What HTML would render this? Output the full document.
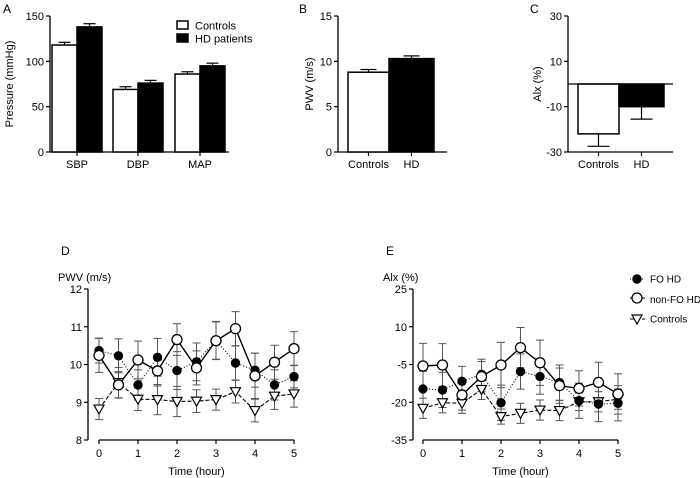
<!DOCTYPE html>
<html><head><meta charset="utf-8">
<style>
html,body{margin:0;padding:0;background:#fff;}
svg{display:block;font-family:"Liberation Sans",Arial,sans-serif;}
</style></head>
<body>
<svg id="fig" width="700" height="478" viewBox="0 0 700 478">
<g id="A"></g>
<g id="B"></g>
<g id="C"></g>
<g id="D"></g>
<g id="E"></g>
</svg>
<script>
// Panel A data
const aCategories = ["SBP","DBP","MAP"];
const aControls = [118, 69, 86];
const aControlsErr = [3, 3, 2.5];
const aHD = [138, 76, 95];
const aHDErr = [3.5, 3, 3];
const aTicks = [0, 50, 100, 150];
// Panel B
const bCategories = ["Controls","HD"];
const bValues = [8.8, 10.3];
const bErr = [0.3, 0.3];
const bTicks = [0, 5, 10, 15];
// Panel C
const cCategories = ["Controls","HD"];
const cValues = [-22, -10];
const cErr = [5.5, 5.5];
const cTicks = [-30, -10, 10, 30];
// Time series
const times = [0,0.5,1,1.5,2,2.5,3,3.5,4,4.5,5];
const timeTicks = [0,1,2,3,4,5];
const dFO = [10.37,10.23,9.46,10.19,9.84,10.07,10.64,10.04,9.85,9.46,9.68];
const dFOErr = [0.33,0.45,0.4,0.5,0.5,0.5,0.5,0.45,0.45,0.4,0.3];
const dNonFO = [10.24,9.46,10.12,9.83,10.66,9.91,10.63,10.95,9.70,10.06,10.42];
const dNonFOErr = [0.45,0.35,0.5,0.4,0.42,0.45,0.5,0.45,0.6,0.45,0.45];
const dCtrl = [8.82,9.52,9.08,9.07,9.02,9.03,9.07,9.28,8.78,9.16,9.22];
const dCtrlErr = [0.28,0.4,0.3,0.4,0.4,0.3,0.28,0.3,0.3,0.35,0.35];
const dTicks = [8,9,10,11,12];
const eFO = [-14.7,-15.1,-11.7,-8.9,-20.2,-7.8,-9.8,-12.2,-19.4,-20.7,-20.4];
const eFOErr = [7,7,6,6,7,7,7,7,7,7,7];
const eNonFO = [-5.6,-5.2,-17.1,-9.8,-5.2,1.7,-4.3,-13.4,-14.5,-12.1,-16.7];
const eNonFOErr = [9,8.5,6,6,9,8,9,7,7,8,8];
const eCtrl = [-22.4,-20.2,-20.4,-14.9,-25.7,-24.4,-23.1,-23.3,-19.8,-19.8,-18.8];
const eCtrlErr = [4,4,4,4,3,4,4,4,3.5,4,4];
const eTicks = [-35,-20,-5,10,25];

const NS="http://www.w3.org/2000/svg";
function mk(parent,tag,attrs,text){const e=document.createElementNS(NS,tag);for(const k in attrs)e.setAttribute(k,attrs[k]);if(text!==undefined)e.textContent=text;parent.appendChild(e);return e;}
function lin(d0,d1,r0,r1){return v=>r0+(v-d0)/(d1-d0)*(r1-r0);}
const FS=11;

function yAxis(g,x,y,ticks,fmt){
  const l=mk(g,'line',{x1:x,x2:x,y1:y(ticks[ticks.length-1]),y2:y(ticks[0]),stroke:'#000','stroke-width':1.3});
  
  
  ticks.forEach(t=>{
    mk(g,'line',{x1:x-4,x2:x,y1:y(t),y2:y(t),stroke:'#000','stroke-width':1.2});
    const tx=mk(g,'text',{x:x-6,y:y(t)+4,'font-size':FS,'text-anchor':'end'},fmt?fmt(t):t);
    
    
  });
}
function label(g,x,y,txt,name,extra){
  const t=mk(g,'text',Object.assign({x:x,y:y,'font-size':FS},extra||{}),txt);
  
  
  return t;
}
function errBar(g,x,top,bottom,w){
  mk(g,'line',{x1:x,x2:x,y1:top,y2:bottom,stroke:'#000','stroke-width':1.2});
  mk(g,'line',{x1:x-w,x2:x+w,y1:top,y2:top,stroke:'#000','stroke-width':1.2});
}

// ---- Panel A
(function(){
  const g=document.getElementById('A');
  const y=lin(0,150,152,16);
  const ax=50;
  label(g,3,13,'A','panel-letter',{'font-size':12});
  label(g,0,0,'Pressure (mmHg)','y-axis-title',{transform:'translate(13,84) rotate(-90)','text-anchor':'middle'});
  yAxis(g,ax,y,aTicks);
  mk(g,'line',{x1:ax,x2:229,y1:152,y2:152,stroke:'#000','stroke-width':1.3});
  const centers=[77,138,200], bw=25;
  aCategories.forEach((c,i)=>{
    const cx=centers[i];
    errBar(g,cx-bw/2,y(aControls[i]+aControlsErr[i]),y(aControls[i]),6);
    errBar(g,cx+bw/2,y(aHD[i]+aHDErr[i]),y(aHD[i]),6);
    const r1=mk(g,'rect',{x:cx-bw,y:y(aControls[i]),width:bw,height:152-y(aControls[i]),fill:'#fff',stroke:'#000','stroke-width':1.5});
    
    
    const r2=mk(g,'rect',{x:cx,y:y(aHD[i]),width:bw,height:152-y(aHD[i]),fill:'#000',stroke:'#000','stroke-width':1.5});
    
    
    mk(g,'line',{x1:cx,x2:cx,y1:152,y2:156,stroke:'#000','stroke-width':1.2});
    label(g,cx,168,c,'x-tick-label',{'text-anchor':'middle'});
  });
  const lg=mk(g,'g',{});
  
  
  mk(lg,'rect',{x:177,y:21,width:11,height:8,fill:'#fff',stroke:'#000','stroke-width':1.5});
  label(lg,195,29.5,'Controls','legend-entry');
  mk(lg,'rect',{x:177,y:34,width:11,height:8,fill:'#000',stroke:'#000','stroke-width':1.5});
  label(lg,195,42.5,'HD patients','legend-entry');
})();

// ---- Panel B
(function(){
  const g=document.getElementById('B');
  const y=lin(0,15,152,16);
  const ax=338;
  label(g,299,13,'B','panel-letter',{'font-size':12});
  label(g,0,0,'PWV (m/s)','y-axis-title',{transform:'translate(313,84) rotate(-90)','text-anchor':'middle'});
  yAxis(g,ax,y,bTicks);
  mk(g,'line',{x1:ax,x2:447,y1:152,y2:152,stroke:'#000','stroke-width':1.3});
  const xs=[[348,389],[389,434]];
  bCategories.forEach((c,i)=>{
    const [x0,x1]=xs[i], cx=(x0+x1)/2;
    errBar(g,cx,y(bValues[i]+bErr[i]),y(bValues[i]),8);
    const r=mk(g,'rect',{x:x0,y:y(bValues[i]),width:x1-x0,height:152-y(bValues[i]),fill:i?'#000':'#fff',stroke:'#000','stroke-width':1.5});
    
    
    mk(g,'line',{x1:cx,x2:cx,y1:152,y2:156,stroke:'#000','stroke-width':1.2});
    label(g,cx,168,c,'x-tick-label',{'text-anchor':'middle'});
  });
})();

// ---- Panel C
(function(){
  const g=document.getElementById('C');
  const y=lin(-30,30,152,16);
  const ax=568;
  label(g,530,13,'C','panel-letter',{'font-size':12});
  label(g,0,0,'Alx (%)','y-axis-title',{transform:'translate(541,84) rotate(-90)','text-anchor':'middle'});
  yAxis(g,ax,y,cTicks);
  mk(g,'line',{x1:ax,x2:673,y1:152,y2:152,stroke:'#000','stroke-width':1.3});
  const xs=[[578,619],[619,664]];
  cCategories.forEach((c,i)=>{
    const [x0,x1]=xs[i], cx=(x0+x1)/2;
    errBar(g,cx,y(cValues[i]-cErr[i]),y(cValues[i]),11);
    const r=mk(g,'rect',{x:x0,y:y(0),width:x1-x0,height:y(cValues[i])-y(0),fill:i?'#000':'#fff',stroke:'#000','stroke-width':1.5});
    
    
    mk(g,'line',{x1:cx,x2:cx,y1:152,y2:156,stroke:'#000','stroke-width':1.2});
    label(g,cx,168,c,'x-tick-label',{'text-anchor':'middle'});
  });
  mk(g,'line',{x1:ax,x2:673,y1:y(0),y2:y(0),stroke:'#000','stroke-width':1.3});
})();

// ---- Line panels
function marker(g,type,x,y){
  if(type==='fo'){mk(g,'circle',{cx:x,cy:y,r:4.2,fill:'#000',stroke:'#000'});}
  else if(type==='non'){mk(g,'circle',{cx:x,cy:y,r:5,fill:'#fff',stroke:'#000','stroke-width':1.3});}
  else {mk(g,'path',{d:`M${x-5},${y-4}L${x+5},${y-4}L${x},${y+5}Z`,fill:'#fff',stroke:'#000','stroke-width':1.2});}
}
function linePanel(id,letter,title,ticks,x0,x5,axX,series){
  const g=document.getElementById(id);
  const y=lin(ticks[0],ticks[ticks.length-1],440,289);
  const x=lin(0,5,x0,x5);
  label(g,axX-27,255,letter,'panel-letter',{'font-size':12});
  label(g,axX-30,281,title,'y-axis-title');
  yAxis(g,axX,y,ticks);
  mk(g,'line',{x1:x0,x2:x5,y1:440,y2:440,stroke:'#000','stroke-width':1.3});
  timeTicks.forEach(t=>{
    mk(g,'line',{x1:x(t),x2:x(t),y1:440,y2:444,stroke:'#000','stroke-width':1.2});
    label(g,x(t),457,t,'x-tick-label',{'text-anchor':'middle'});
  });
  label(g,(x0+x5)/2,475,'Time (hour)','x-axis-title',{'text-anchor':'middle'});
  series.forEach(s=>{
    const sg=mk(g,'g',{});
    
    
    times.forEach((t,i)=>{
      const cx=x(t);
      mk(sg,'line',{x1:cx,x2:cx,y1:y(s.v[i]+s.e[i]),y2:y(s.v[i]-s.e[i]),stroke:'#555','stroke-width':1});
      mk(sg,'line',{x1:cx-4,x2:cx+4,y1:y(s.v[i]+s.e[i]),y2:y(s.v[i]+s.e[i]),stroke:'#555','stroke-width':1});
      mk(sg,'line',{x1:cx-4,x2:cx+4,y1:y(s.v[i]-s.e[i]),y2:y(s.v[i]-s.e[i]),stroke:'#555','stroke-width':1});
    });
    const pts=times.map((t,i)=>x(t)+','+y(s.v[i])).join(' ');
    mk(sg,'polyline',{points:pts,fill:'none',stroke:'#000','stroke-width':s.name==='non-fo-hd'?1.4:1.1,'stroke-dasharray':s.dash});
  });
  series.forEach(s=>{
    times.forEach((t,i)=>marker(g,s.type,x(t),y(s.v[i])));
  });
  return g;
}
linePanel('D','D','PWV (m/s)',dTicks,99,294,88,[
  {name:'controls',type:'ctrl',v:dCtrl,e:dCtrlErr,dash:'4,2'},
  {name:'fo-hd',type:'fo',v:dFO,e:dFOErr,dash:'1,2'},
  {name:'non-fo-hd',type:'non',v:dNonFO,e:dNonFOErr,dash:''}
]);
const gE=linePanel('E','E','Alx (%)',eTicks,423,618,413,[
  {name:'controls',type:'ctrl',v:eCtrl,e:eCtrlErr,dash:'4,2'},
  {name:'fo-hd',type:'fo',v:eFO,e:eFOErr,dash:'1,2'},
  {name:'non-fo-hd',type:'non',v:eNonFO,e:eNonFOErr,dash:''}
]);
(function(){
  const lg=mk(gE,'g',{});
  
  
  const rows=[['fo','FO HD',279,'1,2'],['non','non-FO HD',298,''],['ctrl','Controls',319,'4,2']];
  rows.forEach(r=>{
    mk(lg,'line',{x1:630,x2:645,y1:r[2],y2:r[2],stroke:'#000','stroke-width':1,'stroke-dasharray':r[3]});
    marker(lg,r[0],637,r[2]);
    label(lg,650,r[2]+(r[0]==='non'?5:3.5),r[1],'legend-entry',{'font-size':10});
  });
})();
</script>
</body></html>
